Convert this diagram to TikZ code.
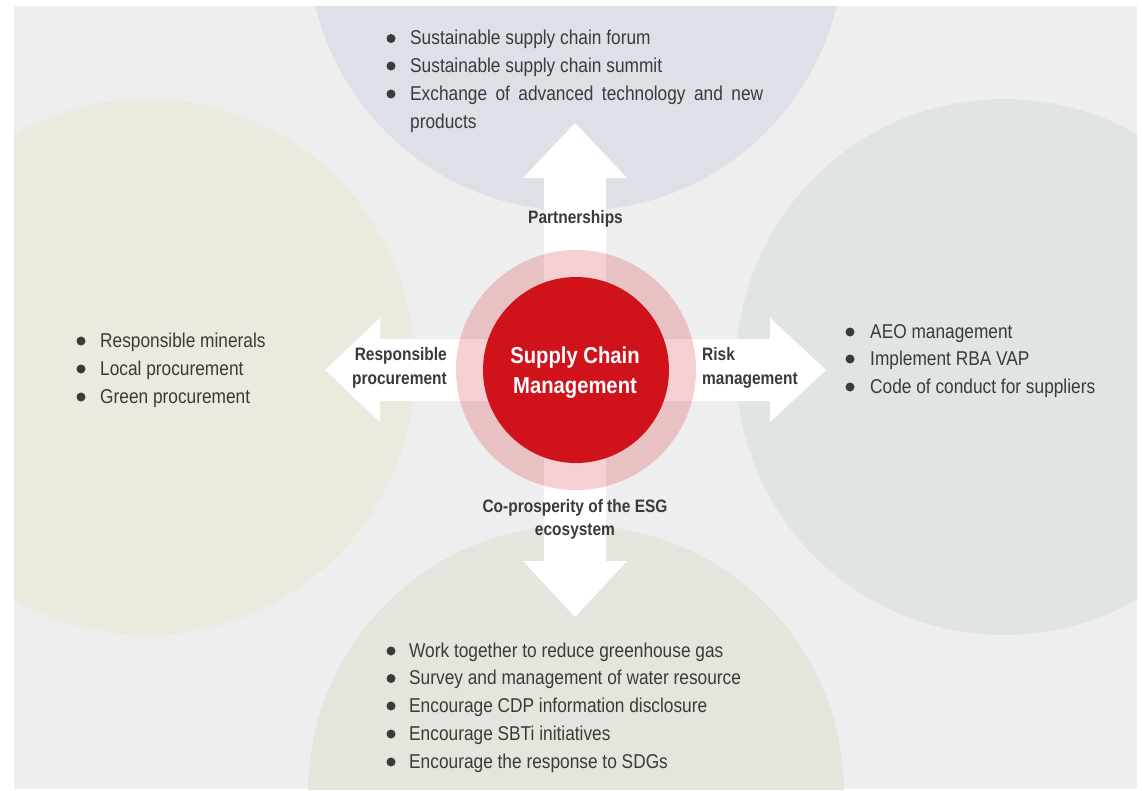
\documentclass[tikz,border=0pt]{standalone}
\usepackage{fontspec}
\newfontfamily\regfont[FakeStretch=0.865]{Liberation Sans}
\newfontfamily\bldfont[FakeStretch=0.86]{Liberation Sans}
\newfontfamily\ctrfont[FakeStretch=0.88]{Liberation Sans}
\definecolor{bggray}{HTML}{EEEEEE}
\definecolor{ctop}{HTML}{DEE0E7}
\definecolor{cleft}{HTML}{ECE9DF}
\definecolor{cright}{HTML}{E0E5E3}
\definecolor{cbottom}{HTML}{E5E5DD}
\definecolor{scred}{HTML}{D0121B}
\definecolor{txtgray}{HTML}{3A3A3A}
\tikzset{
  listtxt/.style={anchor=base west, inner sep=0pt, text=txtgray, font=\regfont\fontsize{20}{24}\selectfont},
  blt/.style={fill=txtgray, draw=none, circle, minimum size=9pt, inner sep=0pt},
  lblc/.style={anchor=base, inner sep=0pt, text=txtgray, font=\bldfont\bfseries\fontsize{18}{22}\selectfont},
  lble/.style={anchor=base east, inner sep=0pt, text=txtgray, font=\bldfont\bfseries\fontsize{18}{22}\selectfont},
  lblw/.style={anchor=base west, inner sep=0pt, text=txtgray, font=\bldfont\bfseries\fontsize{18}{22}\selectfont},
  ctrtxt/.style={anchor=base, inner sep=0pt, text=white, font=\ctrfont\bfseries\fontsize{23}{27}\selectfont},
  arrowfill/.style={fill=white, draw=none}
}
\begin{document}
\begin{tikzpicture}[x=1pt,y=-1pt]
\useasboundingbox (0,0) rectangle (1142,790);
\fill[white] (0,0) rectangle (1142,790);
\fill[bggray] (14,6) rectangle (1137,789);
\begin{scope}
  \clip (14,6) rectangle (1137,789);
  \fill[ctop] (576,-57) circle[radius=268];
  \fill[cleft] (147,367) circle[radius=268];
  \fill[cright] (1004,367) circle[radius=268];
  \fill[cbottom] (576,793) circle[radius=268];
\end{scope}
% arrows
\fill[arrowfill] (325,370) -- (380,318) -- (380,339) -- (770,339) -- (770,318) -- (826,370)
  -- (770,422) -- (770,401) -- (380,401) -- (380,422) -- cycle;
\fill[arrowfill] (575,123) -- (627,178) -- (606,178) -- (606,561) -- (627,561) -- (575,617)
  -- (523,561) -- (544,561) -- (544,178) -- (523,178) -- cycle;
% halo and core
\fill[scred, fill opacity=0.2] (576,370) circle[radius=120];
\fill[scred] (576,370) circle[radius=93];
\node[ctrtxt] (c1) at (575,363.5) {Supply Chain};
\node[ctrtxt] (c2) at (575,393) {Management};
% arrow labels
\node[lblc] (lp) at (575.5,223) {Partnerships};
\node[lblc] (lc1) at (575,512) {Co-prosperity of the ESG};
\node[lblc] (lc2) at (575,535) {ecosystem};
\node[lble] (lr1) at (447,360) {Responsible};
\node[lble] (lr2) at (447,384) {procurement};
\node[lblw] (lk1) at (702,360) {Risk};
\node[lblw] (lk2) at (702,384) {management};
% top list
\node[blt] (tb1) at (391,38.5) {};
\node[listtxt] (t1) at (410,44.5) {Sustainable supply chain forum};
\node[blt] (tb2) at (391,66) {};
\node[listtxt] (t2) at (410,72) {Sustainable supply chain summit};
\node[blt] (tb3) at (391,94) {};
\node[listtxt] (t3) at (410,100) {\makebox[353pt][s]{Exchange of advanced technology and new}};
\node[listtxt] (t4) at (410,128) {products};
% left list
\node[blt] (lb1) at (81,341) {};
\node[listtxt] (l1) at (100,347) {Responsible minerals};
\node[blt] (lb2) at (81,369) {};
\node[listtxt] (l2) at (100,375) {Local procurement};
\node[blt] (lb3) at (81,397) {};
\node[listtxt] (l3) at (100,403) {Green procurement};
% right list
\node[blt] (rb1) at (850,332) {};
\node[listtxt] (r1) at (870,338) {AEO management};
\node[blt] (rb2) at (850,359) {};
\node[listtxt] (r2) at (870,365) {Implement RBA VAP};
\node[blt] (rb3) at (850,387) {};
\node[listtxt] (r3) at (870,393) {Code of conduct for suppliers};
% bottom list
\node[blt] (bb1) at (391,651) {};
\node[listtxt] (b1) at (409,657) {Work together to reduce greenhouse gas};
\node[blt] (bb2) at (391,678.5) {};
\node[listtxt] (b2) at (409,684.5) {Survey and management of water resource};
\node[blt] (bb3) at (391,706) {};
\node[listtxt] (b3) at (409,712) {Encourage CDP information disclosure};
\node[blt] (bb4) at (391,734) {};
\node[listtxt] (b4) at (409,740) {Encourage SBTi initiatives};
\node[blt] (bb5) at (391,762) {};
\node[listtxt] (b5) at (409,768) {Encourage the response to SDGs};
\end{tikzpicture}
\end{document}
